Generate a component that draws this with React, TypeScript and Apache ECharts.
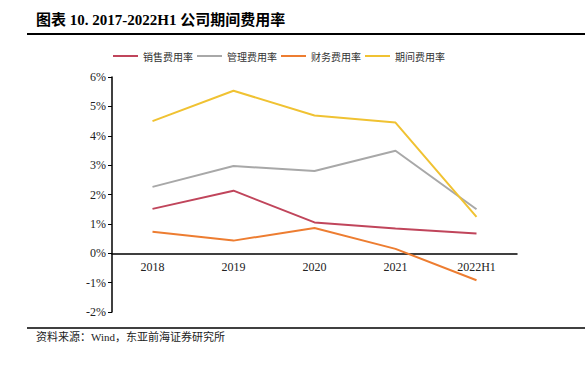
import React, { useEffect, useRef } from "react";
import * as echarts from "echarts";

const categories = ["2018", "2019", "2020", "2021", "2022H1"];
const salesRate = [1.51, 2.13, 1.05, 0.84, 0.67];
const mgmtRate = [2.26, 2.97, 2.8, 3.49, 1.5];
const finRate = [0.73, 0.43, 0.86, 0.15, -0.92];
const periodRate = [4.5, 5.53, 4.69, 4.45, 1.24];
const seriesNames = ["销售费用率", "管理费用率", "财务费用率", "期间费用率"];
const colors = ["#C0455B", "#A8A8A8", "#ED7D31", "#F0C232"];

const serif = "'Liberation Serif', 'Times New Roman', 'Noto Sans CJK SC', serif";

export default function App() {
  const ref = useRef<HTMLDivElement>(null);
  useEffect(() => {
    if (!ref.current) return;
    const chart = echarts.init(ref.current, undefined, { renderer: "svg" });
    const data = [salesRate, mgmtRate, finRate, periodRate];
    chart.setOption({
      animation: false,
      backgroundColor: "#fff",
      graphic: [
        {
          type: "text",
          left: 36,
          top: 12,
          style: {
            text: "图表 10. 2017-2022H1 公司期间费用率",
            font: "bold 15px " + serif,
            fill: "#000",
          },
        },
        {
          type: "line",
          shape: { x1: 27, y1: 34, x2: 585, y2: 34 },
          style: { stroke: "#000", lineWidth: 2 },
        },
        {
          type: "line",
          shape: { x1: 27, y1: 328, x2: 585, y2: 328 },
          style: { stroke: "#000", lineWidth: 1.5 },
        },
        {
          type: "text",
          left: 36,
          top: 331,
          style: {
            text: "资料来源：Wind，东亚前海证券研究所",
            font: "11px " + serif,
            fill: "#222",
          },
        },
      ],
      legend: {
        top: 46,
        left: 108,
        itemWidth: 25,
        itemHeight: 2,
        itemGap: 4,
        icon: "rect",
        textStyle: { fontSize: 10, color: "#333", fontFamily: "'Noto Sans CJK SC', sans-serif" },
        data: seriesNames,
      },
      grid: { left: 112, right: 68, top: 77, bottom: 54 },
      xAxis: {
        type: "category",
        data: categories,
        boundaryGap: true,
        axisLine: { onZero: true, lineStyle: { color: "#000", width: 1.5 } },
        axisTick: { show: false },
        axisLabel: { color: "#222", fontSize: 12, fontFamily: serif, margin: -51 },
      },
      yAxis: {
        type: "value",
        min: -2,
        max: 6,
        interval: 1,
        splitLine: { show: false },
        axisLine: { show: true, lineStyle: { color: "#000", width: 1.5 } },
        axisTick: { show: true, length: 4, lineStyle: { color: "#000" } },
        axisLabel: {
          color: "#222",
          fontSize: 12,
          fontFamily: serif,
          margin: 6,
          formatter: (v: number) => v + "%",
        },
      },
      series: seriesNames.map((name, i) => ({
        name,
        type: "line",
        data: data[i],
        symbol: "none",
        lineStyle: { color: colors[i], width: 2 },
        itemStyle: { color: colors[i] },
      })),
    });
    return () => chart.dispose();
  }, []);
  return <div ref={ref} style={{ width: 585, height: 366, position: "absolute", left: 0, top: 0 }} />;
}
